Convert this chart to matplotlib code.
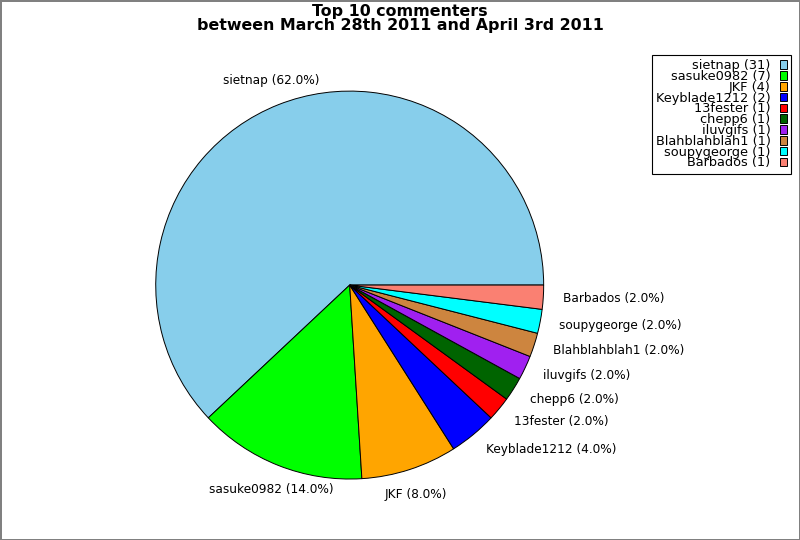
import math
import matplotlib
matplotlib.use("Agg")
import matplotlib.pyplot as plt

names = ["sietnap", "sasuke0982", "JKF", "Keyblade1212", "13fester", "chepp6",
         "iluvgifs", "Blahblahblah1", "soupygeorge", "Barbados"]
counts = [31, 7, 4, 2, 1, 1, 1, 1, 1, 1]
colors = ["#87ceeb", "#00ff00", "#ffa500", "#0000ff", "#ff0000", "#006400",
          "#a020f0", "#cd853f", "#00ffff", "#fa8072"]
title = "Top 10 commenters\nbetween March 28th 2011 and April 3rd 2011"

total = sum(counts)
pie_labels = [f"{n} ({c * 100.0 / total:.1f}%)" for n, c in zip(names, counts)]
legend_labels = [f"{n} ({c})" for n, c in zip(names, counts)]

fig = plt.figure(figsize=(8, 5.4), dpi=100)
fig.patch.set_edgecolor("gray")
fig.patch.set_linewidth(2)

ax = fig.add_axes([0.134, 0.0231, 0.60625, 0.898])
wedges, texts = ax.pie(counts, labels=pie_labels, colors=colors,
                       startangle=0, counterclock=True,
                       wedgeprops=dict(edgecolor="black", linewidth=0.7),
                       textprops=dict(fontsize=8.7))
ax.set_aspect("equal")

# label alignment like the reference: near-vertical labels centred
for w, t in zip(wedges, texts):
    ang = math.radians((w.theta1 + w.theta2) / 2.0)
    if abs(math.cos(ang)) < 0.5:
        t.set_ha("center")
        t.set_va("bottom" if math.sin(ang) > 0 else "top")
    else:
        t.set_ha("left" if math.cos(ang) > 0 else "right")
        t.set_va("center")

fig.suptitle(title, fontsize=11.4, fontweight="bold", y=0.993, va="top",
             linespacing=0.9)

leg = fig.legend(wedges, legend_labels, loc="upper right",
                 bbox_to_anchor=(791 / 800, 1 - 55 / 540),
                 bbox_transform=fig.transFigure, borderaxespad=0,
                 markerfirst=False, fancybox=False, framealpha=1,
                 edgecolor="black", fontsize=9.3, labelspacing=-0.17,
                 handlelength=0.55, handleheight=0.65, handletextpad=0.7,
                 borderpad=0.32)
leg.get_frame().set_linewidth(0.8)
for t in leg.get_texts():
    t.set_ha("right")

fig.savefig("out.png", dpi=100, edgecolor=fig.get_edgecolor())
